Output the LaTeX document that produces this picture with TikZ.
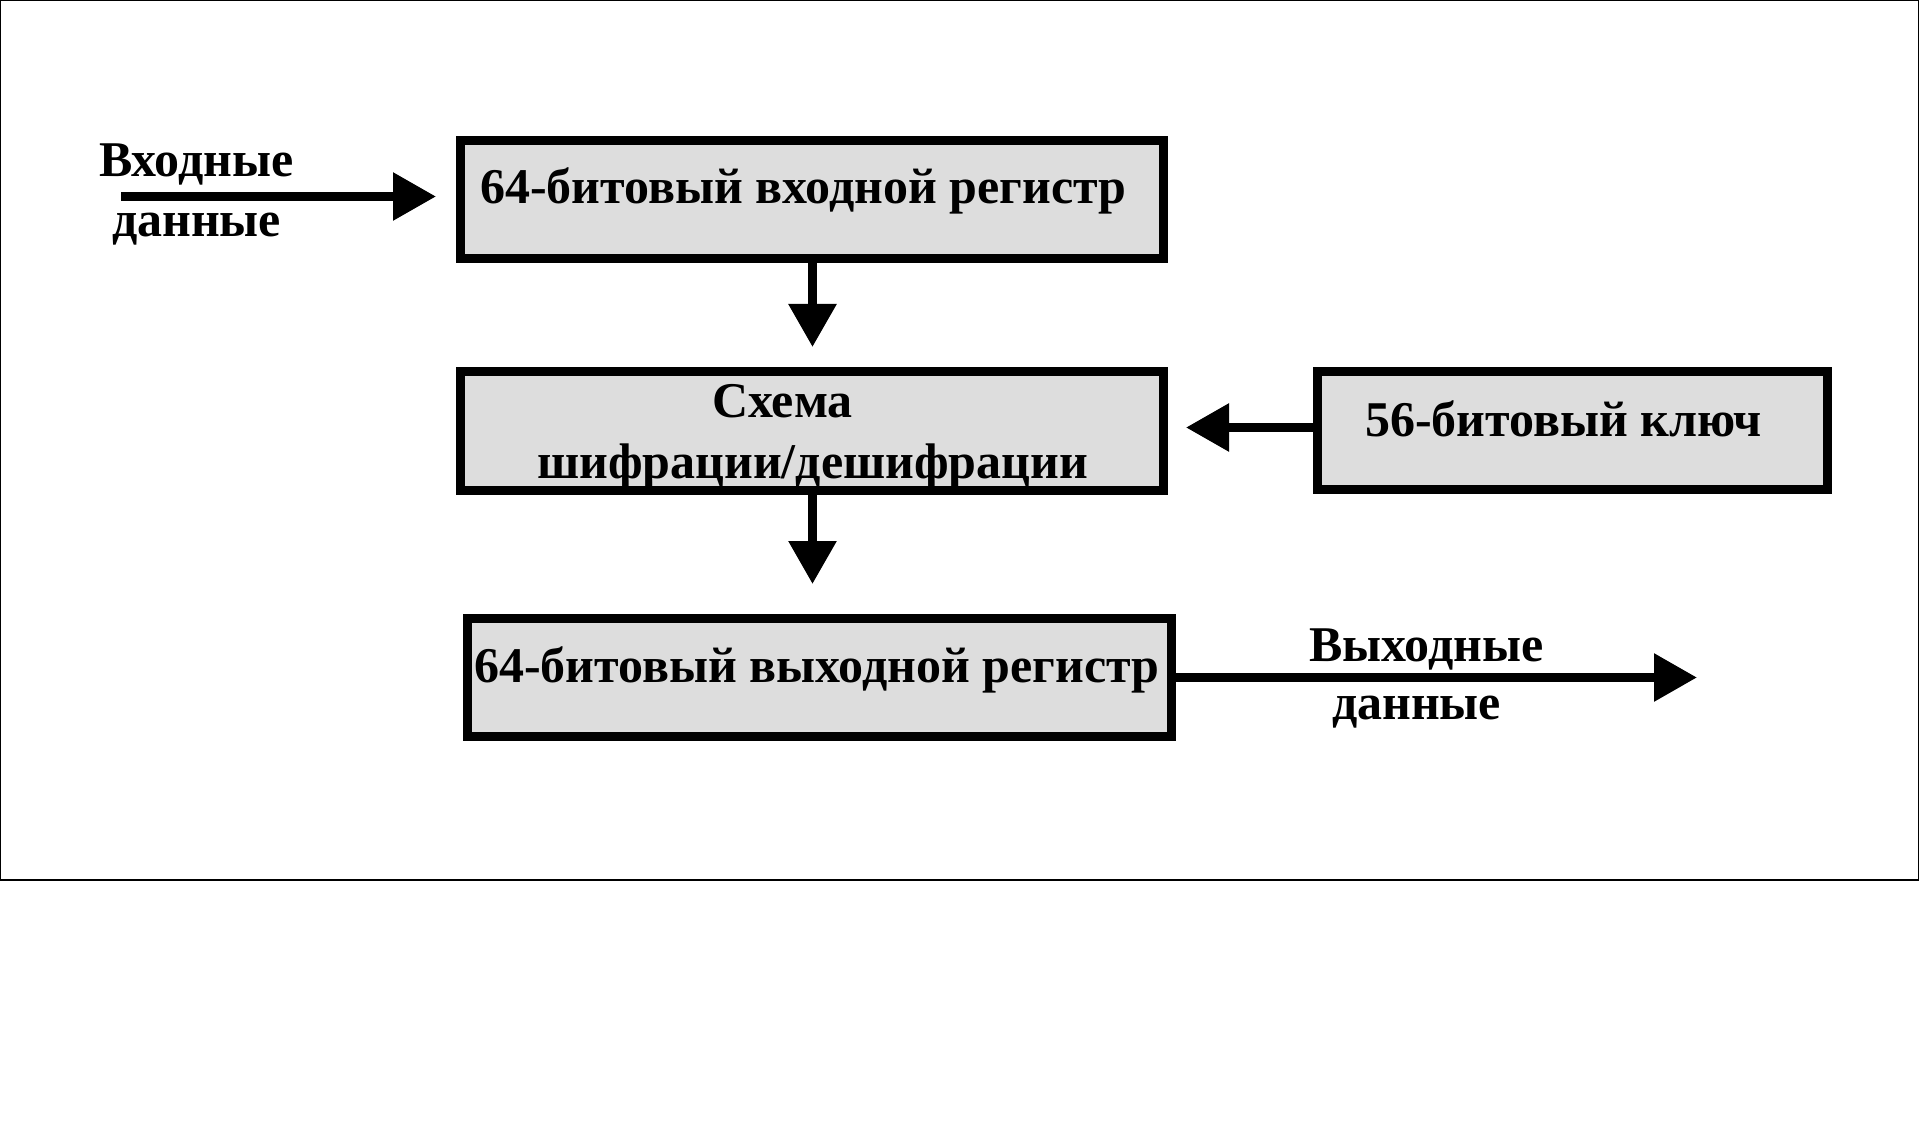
\documentclass[tikz,border=0pt]{standalone}
\usepackage{fontspec}
\setmainfont{Liberation Serif}
\usetikzlibrary{arrows.meta}
\definecolor{boxfill}{RGB}{221,221,221}
\tikzset{
  regbox/.style={draw=black, line width=9pt, fill=boxfill, inner sep=0pt, outer sep=0pt, rectangle},
  lbl/.style={inner sep=0pt, outer sep=0pt, anchor=base west, font=\fontsize{50}{60}\selectfont\bfseries},
  flow/.style={line width=9pt, -{Triangle[length=43pt,width=46pt]}},
}
\begin{document}
\begin{tikzpicture}[x=1pt,y=-1pt]
\useasboundingbox (0,0) rectangle (1919,1147);
\draw[line width=1.2pt] (0.6,0.6) rectangle (1918.4,880);
% boxes
\node[regbox, minimum width=703pt, minimum height=118pt] (inreg) at (812,199.5) {};
\node[regbox, minimum width=703pt, minimum height=119pt] (cipher) at (812,431) {};
\node[regbox, minimum width=510pt, minimum height=118pt] (key) at (1572.5,430.5) {};
\node[regbox, minimum width=703.5pt, minimum height=118pt] (outreg) at (819.25,677.5) {};
% texts
\node[lbl] (tin) at (480,204) {64-битовый входной регистр};
\node[lbl] (tc1) at (712,417) {Схема};
\node[lbl] (tc2) at (537,478) {шифрации/дешифрации};
\node[lbl] (tkey) at (1365,436) {56-битовый ключ};
\node[lbl] (tout) at (474,682) {64-битовый выходной регистр};
\node[lbl] (inl1) at (99,177) {Входные};
\node[lbl] (inl2) at (112,237) {данные};
\node[lbl] (outl1) at (1309,661) {Выходные};
\node[lbl] (outl2) at (1332,719) {данные};
% connectors
\coordinate (inS) at (121,196.5);
\draw[flow, shorten >=24.5pt] (inS) -- (inS -| inreg.west);
\draw[flow, shorten >=24.5pt] ([xshift=0.5pt]inreg.south) -- ([xshift=0.5pt]cipher.north);
\draw[flow, shorten >=34.5pt] ([xshift=0.5pt]cipher.south) -- ([xshift=0.5pt]cipher.south |- outreg.north);
\draw[flow, shorten >=22.5pt] ([yshift=3pt]key.west) -- ([yshift=3pt]key.west -| cipher.east);
\coordinate (outE) at (1697,677.5);
\draw[flow] (outreg.east) -- (outE);
\end{tikzpicture}
\end{document}
